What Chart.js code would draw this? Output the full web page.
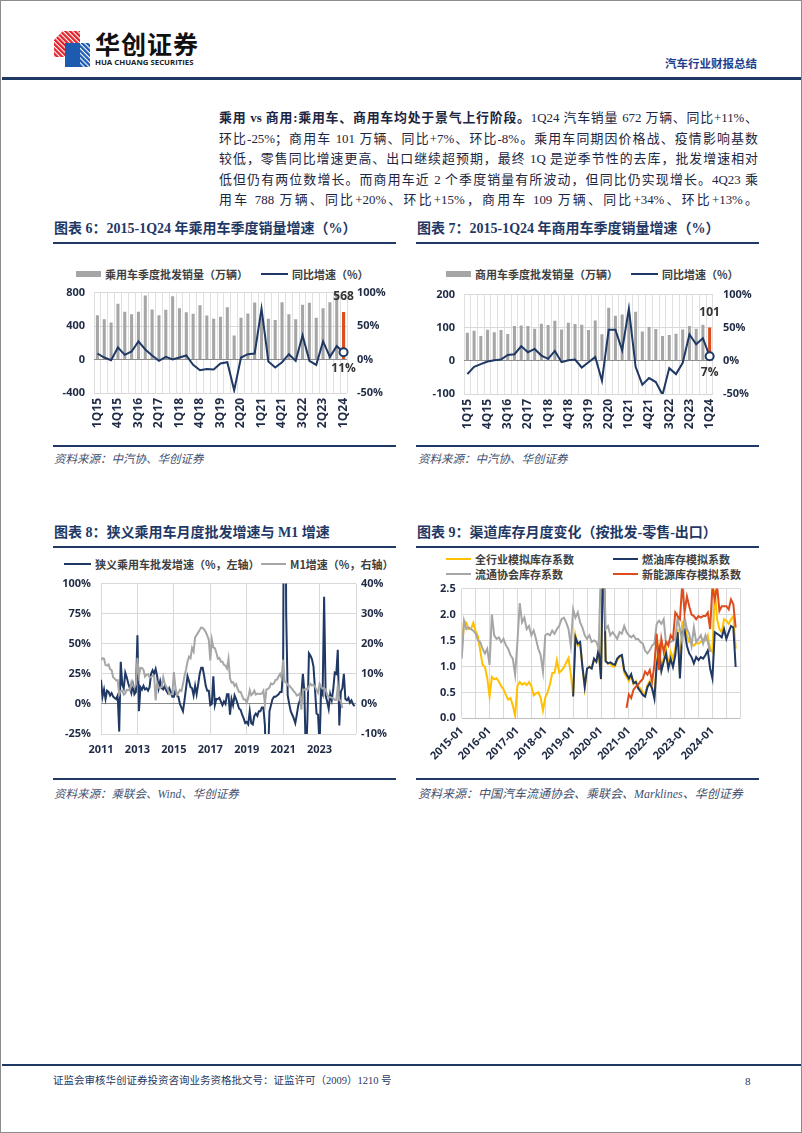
<!DOCTYPE html>
<html lang="zh-CN">
<head>
<meta charset="utf-8">
<title>汽车行业财报总结</title>
<script src="https://cdn.jsdelivr.net/npm/chart.js@4.4.1/dist/chart.umd.min.js"></script>
<style>
html, body { margin: 0; padding: 0; background: #fff; }
#page { position: relative; width: 802px; height: 1133px; box-sizing: border-box; border: 1px solid #8c8c8c; overflow: hidden;
        font-family: "Liberation Serif", "Noto Sans CJK SC", serif; }
.abs { position: absolute; }
.rule { position: absolute; height: 2px; background: #1f3864; }
.ttl { position: absolute; font-size: 14px; font-weight: bold; color: #1f3864; white-space: nowrap; line-height: 16px; }
.src { position: absolute; font-size: 11.5px; font-style: italic; color: #44506e; white-space: nowrap; line-height: 14px; }
.txt { position: absolute; left: 218px; width: 539px; font-size: 12.9px; line-height: 20px; color: #1c2541;
       text-align: justify; text-align-last: justify; }
.lg { position: absolute; font-family: "Noto Sans CJK SC", sans-serif; font-size: 11px; font-weight: bold; color: #404040;
      white-space: nowrap; line-height: 14px; display: flex; align-items: center; }
.lg i { display: inline-block; margin-right: 4px; }
.box { position: absolute; }
</style>
</head>
<body>
<div id="page">

  <!-- 页眉 -->
  <svg class="abs" style="left:53px;top:30px" width="36" height="36" viewBox="0 0 36 36">
    <defs>
      <pattern id="st" width="3.4" height="3.4" patternUnits="userSpaceOnUse" patternTransform="rotate(45)">
        <rect width="3.4" height="1.1" fill="#fff"/>
      </pattern>
    </defs>
    <polygon points="0,9 9,0 26,0 26,26 0,26" fill="#e2232b"/>
    <polygon points="0,9 9,0 26,0 26,26 0,26" fill="url(#st)"/>
    <polygon points="11,12 36,12 36,36 11,36" fill="#1d5bb0"/>
    <polygon points="26,12 36,12 36,36 26,36" fill="url(#st)"/>
  </svg>
  <div class="abs" style="left:94px;top:27px;font-family:'Noto Sans CJK SC';font-weight:bold;font-size:25px;letter-spacing:1px;color:#111;line-height:30px;">华创证券</div>
  <div class="abs" style="left:94px;top:57px;font-family:'Open Sans';font-weight:bold;font-size:7.8px;color:#222;line-height:9px;white-space:nowrap;">HUA CHUANG SECURITIES</div>
  <div class="abs" style="left:664px;top:56px;font-size:11.5px;font-weight:bold;color:#1f3f8f;line-height:14px;">汽车行业财报总结</div>
  <div class="rule" style="left:1px;width:800px;top:76px;height:2.5px;"></div>

  <!-- 正文 -->
  <div class="txt" style="top:107px;"><b>乘用 vs 商用:乘用车、商用车均处于景气上行阶段。</b>1Q24 汽车销量 672 万辆、同比+11%、</div>
  <div class="txt" style="top:127.5px;">环比-25%；商用车 101 万辆、同比+7%、环比-8%。乘用车同期因价格战、疫情影响基数</div>
  <div class="txt" style="top:148px;">较低，零售同比增速更高、出口继续超预期，最终 1Q 是逆季节性的去库，批发增速相对</div>
  <div class="txt" style="top:168.5px;">低但仍有两位数增长。而商用车近 2 个季度销量有所波动，但同比仍实现增长。4Q23 乘</div>
  <div class="txt" style="top:189px;">用车 788 万辆、同比+20%、环比+15%，商用车 109 万辆、同比+34%、环比+13%。</div>

  <!-- 图表 6 -->
  <div class="ttl" style="left:53px;top:220px;">图表 6：2015-1Q24 年乘用车季度销量增速（%）</div>
  <div class="rule" style="left:52px;width:343px;top:240.5px;"></div>
  <div class="lg" style="left:75px;top:266px;"><i style="width:25px;height:6px;background:#a6a6a6"></i>乘用车季度批发销量（万辆）</div>
  <div class="lg" style="left:260px;top:266px;"><i style="width:27px;height:2.5px;background:#1f3864"></i>同比增速（%）</div>
  <div class="box" style="left:40px;top:275px;width:360px;height:160px;"><canvas id="c6"></canvas></div>
  <div class="rule" style="left:52px;width:343px;top:444px;"></div>
  <div class="src" style="left:53px;top:451px;">资料来源：中汽协、华创证券</div>

  <!-- 图表 7 -->
  <div class="ttl" style="left:416px;top:220px;">图表 7：2015-1Q24 年商用车季度销量增速（%）</div>
  <div class="rule" style="left:415px;width:343px;top:240.5px;"></div>
  <div class="lg" style="left:445px;top:266px;"><i style="width:25px;height:6px;background:#a6a6a6"></i>商用车季度批发销量（万辆）</div>
  <div class="lg" style="left:630px;top:266px;"><i style="width:27px;height:2.5px;background:#1f3864"></i>同比增速（%）</div>
  <div class="box" style="left:405px;top:277px;width:360px;height:160px;"><canvas id="c7"></canvas></div>
  <div class="rule" style="left:415px;width:343px;top:444px;"></div>
  <div class="src" style="left:417px;top:451px;">资料来源：中汽协、华创证券</div>

  <!-- 图表 8 -->
  <div class="ttl" style="left:53px;top:524px;">图表 8：狭义乘用车月度批发增速与 M1 增速</div>
  <div class="rule" style="left:52px;width:343px;top:545px;"></div>
  <div class="lg" style="left:63px;top:556px;"><i style="width:27px;height:2.5px;background:#1f3864"></i>狭义乘用车批发增速（%，左轴）</div>
  <div class="lg" style="left:260px;top:556px;"><i style="width:25px;height:2.5px;background:#a6a6a6"></i>M1增速（%，右轴）</div>
  <div class="box" style="left:40px;top:566px;width:360px;height:194px;"><canvas id="c8"></canvas></div>
  <div class="rule" style="left:52px;width:343px;top:776.5px;"></div>
  <div class="src" style="left:53px;top:786px;">资料来源：乘联会、Wind、华创证券</div>

  <!-- 图表 9 -->
  <div class="ttl" style="left:416px;top:524px;">图表 9：渠道库存月度变化（按批发-零售-出口）</div>
  <div class="rule" style="left:415px;width:343px;top:545px;"></div>
  <div class="lg" style="left:445px;top:551px;"><i style="width:25px;height:2.5px;background:#ffc000"></i>全行业模拟库存系数</div>
  <div class="lg" style="left:612px;top:551px;"><i style="width:25px;height:2.5px;background:#1f3864"></i>燃油库存模拟系数</div>
  <div class="lg" style="left:445px;top:566px;"><i style="width:25px;height:2.5px;background:#a6a6a6"></i>流通协会库存系数</div>
  <div class="lg" style="left:612px;top:566px;"><i style="width:25px;height:2.5px;background:#dc4c1c"></i>新能源库存模拟系数</div>
  <div class="box" style="left:405px;top:575px;width:350px;height:195px;"><canvas id="c9"></canvas></div>
  <div class="rule" style="left:415px;width:343px;top:776.5px;"></div>
  <div class="src" style="left:417px;top:786px;font-size:12px;">资料来源：中国汽车流通协会、乘联会、Marklines、华创证券</div>

  <!-- 页脚 -->
  <div class="rule" style="left:1px;width:800px;top:1063px;"></div>
  <div class="abs" style="left:52px;top:1073px;font-size:10.5px;color:#1f3864;line-height:14px;white-space:nowrap;">证监会审核华创证券投资咨询业务资格批文号：证监许可（2009）1210 号</div>
  <div class="abs" style="left:744px;top:1073px;font-size:11px;color:#1f3864;line-height:14px;">8</div>
</div>

<script>
// 季度标签（图表 6、7 共用）
const quarterLabels = ['1Q15','2Q15','3Q15','4Q15','1Q16','2Q16','3Q16','4Q16','1Q17','2Q17','3Q17','4Q17',
  '1Q18','2Q18','3Q18','4Q18','1Q19','2Q19','3Q19','4Q19','1Q20','2Q20','3Q20','4Q20','1Q21','2Q21','3Q21','4Q21',
  '1Q22','2Q22','3Q22','4Q22','1Q23','2Q23','3Q23','4Q23','1Q24'];

// 图表 6：乘用车季度批发销量（万辆）与同比（%）
const pvSales = [530, 481, 444, 666, 572, 540, 570, 765, 598, 530, 594, 755, 613, 566, 548, 648,
  525, 488, 510, 624, 286, 500, 550, 682, 500, 488, 474, 684, 542, 480, 656, 680, 500, 614, 684, 788, 568];
const pvYoY = [9, 3, -1, 18, 7, 12, 27, 15, 6, -2, 4, 0, 3, 6, -8, -16,
  -14, -15, -6, -4, -46, 3, 8, 9, 76, -3, -12, -4, 8, -2, 36, -2, -8, 27, 4, 20, 11];

// 图表 7：商用车季度批发销量（万辆）与同比（%）
const cvSales = [85, 91, 75, 94, 86, 93, 81, 105, 107, 105, 97, 112, 108, 121, 95, 115,
  111, 109, 93, 122, 80, 160, 136, 140, 143, 148, 89, 102, 96, 75, 78, 82, 95, 105, 97, 109, 101];
const cvYoY = [-20, -9, -5, -1, 1, 2, 9, 10, 22, 13, 18, 8, 3, 15, -2, 1,
  2, -10, -2, 6, -30, 47, 47, 16, 79, -9, -36, -26, -32, -51, -11, -20, -3, 40, 25, 34, 7];

// 图表 8：月度数据，自 2011-01 起
const m1Years = ['2011', '2013', '2015', '2017', '2019', '2021', '2023'];
const pvMonthlyYoY = [
  20, 6, 12, 4, 11, 10, 7, 9, 6, 5, 4, 7,            // 2011
  -23, 35, 16, 13, 26, 22, 17, 13, 9, 16, 8, 10,     // 2012
  57, -6, 14, 12, 15, 12, 13, 11, 14, 25, 28, 25,    // 2013
  29, 23, 13, 19, 13, 12, 15, 11, 9, 13, 10, 6,      // 2014
  6, 11, 7, 6, 0, -3, -6, 3, 13, 23, 19, 14,         // 2015
  13, 7, 15, 8, 16, 25, 30, 30, 23, 15, 11, 11,      // 2016
  -1, 0, 23, -1, 4, 4, 5, 2, -1, 2, 0, 8,            // 2017
  8, -9, 4, -1, 7, 4, 0, -4, -5, -9, -12, -16,       // 2018
  -15, -17, -6, -16, -17, -10, -8, -10, -6, -6, -3, -3, // 2019
  -18, -80, -45, -6, -1, 4, 6, 6, 7, 8, 10, 10,      // 2020
  30, 370, 75, 7, 0, -6, -9, -12, -16, -9, -1, 3,    // 2021
  8, 25, 10, -47, -12, 42, 40, 37, 31, 12, -8, -9,   // 2022
  -35, 11, 8, 89, 7, 2, -4, 8, 3, 12, 26, 25,        // 2023
  45, -18, 10, 13, 25, 4, 3, 5, 1, 3, 0, -2          // 2024
];
const m1YoY = [
  14.6, 15.2, 15.0, 12.9, 12.7, 13.1, 11.6, 11.2, 8.9, 8.4, 7.8, 7.9,   // 2011
  3.1, 4.3, 4.4, 3.1, 3.5, 4.7, 4.6, 4.5, 7.3, 6.1, 5.5, 6.5,           // 2012
  15.3, 9.5, 11.9, 11.9, 11.3, 9.1, 9.7, 9.9, 8.9, 8.9, 9.4, 9.3,       // 2013
  1.2, 6.9, 5.4, 5.3, 5.7, 8.9, 6.7, 5.7, 4.8, 3.2, 3.2, 3.2,           // 2014
  10.6, 5.6, 2.9, 3.7, 4.7, 4.3, 6.6, 9.3, 11.4, 14.0, 15.7, 15.2,      // 2015
  18.6, 17.4, 22.1, 22.9, 23.7, 24.6, 25.4, 25.3, 24.7, 23.9, 22.7, 21.4, // 2016
  14.5, 21.4, 18.8, 18.5, 17.0, 15.0, 15.3, 14.0, 14.0, 13.0, 12.7, 11.8, // 2017
  15.0, 8.5, 7.1, 7.2, 6.0, 6.6, 5.1, 3.9, 4.0, 2.7, 1.5, 1.5,          // 2018
  0.4, 2.0, 4.6, 2.9, 3.4, 4.4, 3.1, 3.4, 3.4, 3.3, 3.5, 4.4,           // 2019
  0.0, 4.8, 5.0, 5.5, 6.8, 6.5, 6.9, 8.0, 8.1, 9.1, 10.0, 8.6,          // 2020
  14.7, 7.4, 7.1, 6.2, 6.1, 5.5, 4.9, 4.2, 3.7, 2.8, 3.0, 3.5,          // 2021
  -1.9, 4.7, 4.7, 5.1, 4.6, 5.8, 6.7, 6.1, 6.4, 5.8, 4.6, 3.7,          // 2022
  6.7, 5.8, 5.1, 5.3, 4.7, 3.1, 2.3, 2.2, 2.1, 1.9, 1.3, 1.3,           // 2023
  5.9, 1.2, 1.1, -1.4                                                   // 2024
];

// 图表 9：库存系数，月度，自 2015-01 起
const invYearLabels = ['2015-01', '2016-01', '2017-01', '2018-01', '2019-01', '2020-01', '2021-01', '2022-01', '2023-01', '2024-01'];
const invTotal = [
  1.2, 1.88, 1.84, 1.72, 1.72, 1.84, 1.68, 1.58, 1.3, 1.03, 0.99, 0.78,   // 2015
  0.42, 0.8, 0.75, 0.77, 0.71, 0.62, 0.56, 0.45, 0.36, 0.39, 0.25, 0.05,  // 2016
  0.62, 0.7, 0.65, 0.68, 0.64, 0.7, 0.62, 0.44, 0.48, 0.5, 0.4, 0.15,     // 2017
  0.4, 0.5, 0.65, 0.87, 0.88, 1.12, 0.88, 0.92, 0.98, 1.07, 1.16, 0.85,   // 2018
  0.45, 1.6, 1.4, 1.45, 1.0, 0.58, 0.95, 1.0, 0.98, 1.12, 1.1, 1.3,       // 2019
  0.75, 3.5, 1.12, 1.05, 1.06, 1.0, 1.0, 1.12, 1.18, 1.2, 0.88, 0.8,      // 2020
  0.72, 0.82, 0.66, 0.72, 0.62, 0.57, 0.5, 0.47, 0.64, 0.72, 0.56, 0.42,  // 2021
  1.09, 1.4, 0.96, 1.15, 1.34, 1.02, 1.28, 1.15, 1.34, 1.72, 0.85, 1.85,  // 2022
  1.88, 1.6, 1.47, 1.45, 1.4, 1.45, 1.44, 1.47, 1.53, 1.5, 1.6, 1.34,     // 2023
  1.28, 2.48, 1.91, 1.72, 1.66, 1.91, 1.88, 1.82, 1.91, 1.97, 1.34        // 2024
];
const invFuelStart = 48; // 2019-01
const invFuel = [
  0.42, 1.56, 1.44, 1.47, 0.99, 0.61, 0.96, 0.99, 0.96, 1.15, 1.09, 1.34, // 2019
  0.76, 3.5, 1.1, 1.06, 1.08, 1.05, 1.03, 1.15, 1.2, 1.22, 0.93, 0.85,    // 2020
  0.77, 0.85, 0.68, 0.7, 0.58, 0.52, 0.45, 0.42, 0.6, 0.68, 0.58, 0.38,   // 2021
  1.03, 1.31, 0.91, 1.09, 1.25, 0.96, 1.15, 0.99, 1.22, 1.66, 0.77, 1.66, // 2022
  1.7, 1.4, 1.25, 1.18, 1.06, 1.18, 1.12, 1.18, 1.15, 1.22, 1.31, 0.96,   // 2023
  0.77, 1.66, 1.63, 1.6, 1.56, 1.72, 1.53, 1.66, 1.78, 1.75, 0.99         // 2024
];
const invCada = [
  1.15, 1.88, 1.72, 1.75, 1.72, 1.69, 1.63, 1.5, 1.47, 1.34, 1.25, 1.34,  // 2015
  1.03, 2.0, 1.6, 1.53, 1.56, 1.47, 1.53, 1.41, 1.34, 1.22, 1.15, 0.84,   // 2016
  1.47, 2.22, 1.85, 1.94, 1.72, 1.78, 1.6, 1.69, 1.53, 1.34, 1.22, 0.9,   // 2017
  1.6, 1.63, 1.6, 1.69, 1.63, 1.72, 1.78, 1.91, 1.94, 1.85, 1.72, 1.4,    // 2018
  2.1, 1.94, 2.04, 1.85, 1.75, 1.6, 1.53, 1.6, 1.47, 1.5, 1.47, 1.34,     // 2019
  3.0, 3.5, 1.72, 1.78, 1.6, 1.66, 1.6, 1.53, 1.66, 1.63, 1.78, 1.66,     // 2020
  1.6, 1.56, 1.6, 1.53, 1.53, 1.47, 1.44, 1.3, 1.25, 1.31, 1.4, 1.44,     // 2021
  1.82, 1.88, 1.82, 1.91, 1.44, 1.47, 1.47, 1.5, 1.53, 1.94, 1.72, 1.47,  // 2022
  1.94, 1.72, 1.63, 1.4, 1.75, 1.47, 1.53, 1.6, 1.44, 1.6, 1.47, 1.28     // 2023
];
const invNevStart = 71; // 2020-12
const invNev = [
  0.2,
  0.46, 0.39, 0.55, 0.61, 0.65, 0.71, 0.76, 0.9, 0.84, 0.93, 0.71, 1.03,  // 2021
  1.63, 0.93, 1.53, 1.28, 1.47, 1.4, 1.6, 1.53, 2.04, 1.97, 1.91, 2.6,    // 2022
  2.04, 2.35, 2.16, 2.0, 1.97, 1.91, 1.97, 1.94, 1.97, 1.97, 2.04, 1.72,  // 2023
  2.55, 2.29, 2.55, 2.07, 2.16, 2.16, 2.16, 2.1, 2.29, 2.2, 1.75          // 2024
];

const NAVY = '#1f3864';
const GRAY = '#a6a6a6';
const RED = '#dc4c1c';
const YELLOW = '#ffc000';
const GRID = '#d9d9d9';
const ZERO = '#8c8c8c';

Chart.defaults.font.family = '"Open Sans", "Noto Sans CJK SC", sans-serif';
Chart.defaults.font.size = 11;
Chart.defaults.font.weight = 'bold';
Chart.defaults.color = '#1f2a44';
Chart.defaults.animation = false;
Chart.defaults.maintainAspectRatio = false;
Chart.defaults.plugins.legend.display = false;
Chart.defaults.plugins.tooltip.enabled = false;

const toPoints = (arr, start) => arr.map((v, i) => ({x: start + i, y: v}));
const yGrid = {color: c => (c.tick && c.tick.value === 0 ? ZERO : GRID), drawTicks: false};

// 最后一期的数值标注
const lastLabels = {
    id: 'lastLabels',
    afterDatasetsDraw(chart, args, opts) {
        const lineMeta = chart.getDatasetMeta(0);
        const barMeta = chart.getDatasetMeta(1);
        const pt = lineMeta.data[lineMeta.data.length - 1];
        const bar = barMeta.data[barMeta.data.length - 1];
        const ctx = chart.ctx;
        ctx.save();
        ctx.font = 'bold 12px "Open Sans", sans-serif';
        ctx.fillStyle = '#333333';
        ctx.textAlign = 'center';
        ctx.textBaseline = 'middle';
        ctx.fillText(opts.barText, bar.x, bar.y - 15);
        ctx.fillText(opts.lineText, pt.x, pt.y + 16);
        ctx.restore();
    }
};

function comboChart(id, sales, yoy, left, right, dims) {
    const last = sales.length - 1;
    return new Chart(document.getElementById(id), {
        type: 'bar',
        data: {
            labels: quarterLabels,
            datasets: [
                {
                    type: 'line',
                    data: yoy,
                    yAxisID: 'y1',
                    order: 0,
                    borderColor: NAVY,
                    borderWidth: 2,
                    tension: 0,
                    pointRadius: c => (c.dataIndex === last ? 4 : 0),
                    pointBackgroundColor: '#ffffff',
                    pointBorderColor: NAVY,
                    pointBorderWidth: 2
                },
                {
                    type: 'bar',
                    data: sales,
                    yAxisID: 'y',
                    order: 1,
                    backgroundColor: c => (c.dataIndex === last ? RED : GRAY),
                    barPercentage: 0.45,
                    categoryPercentage: 1
                }
            ]
        },
        options: {
            layout: {padding: {top: dims.top}},
            scales: {
                x: {
                    grid: {color: '#e0e0e0', drawTicks: false},
                    border: {display: false},
                    ticks: {
                        autoSkip: false, minRotation: 90, maxRotation: 90, padding: 5, font: {size: 12},
                        callback: (v, i) => (i % 3 === 0 ? quarterLabels[i] : '')
                    },
                    afterFit: s => { s.height = dims.xh; }
                },
                y: {
                    position: 'left', min: left[0], max: left[1],
                    ticks: {stepSize: left[2], padding: 9},
                    grid: yGrid,
                    border: {display: false},
                    afterFit: s => { s.width = dims.yw; }
                },
                y1: {
                    position: 'right', min: right[0], max: right[1],
                    ticks: {stepSize: right[2], padding: 10, callback: v => v + '%'},
                    grid: {drawOnChartArea: false, drawTicks: false},
                    border: {display: false},
                    afterFit: s => { s.width = dims.y1w; }
                }
            },
            plugins: {
                lastLabels: {barText: String(sales[last]), lineText: yoy[last] + '%'}
            }
        },
        plugins: [lastLabels]
    });
}

comboChart('c6', pvSales, pvYoY, [-400, 800, 400], [-50, 100, 50], {top: 10, xh: 43, yw: 53, y1w: 54});
comboChart('c7', cvSales, cvYoY, [-100, 200, 100], [-50, 100, 50], {top: 10, xh: 44, yw: 58, y1w: 53});

// 图表 8
new Chart(document.getElementById('c8'), {
    type: 'line',
    data: {
        datasets: [
            {data: toPoints(m1YoY, 0), yAxisID: 'y1', borderColor: GRAY, borderWidth: 2, pointRadius: 0, order: 0},
            {data: toPoints(pvMonthlyYoY, 0), yAxisID: 'y', borderColor: NAVY, borderWidth: 2, pointRadius: 0, order: 1}
        ]
    },
    options: {
        layout: {padding: {top: 10}},
        scales: {
            x: {
                type: 'linear', min: 0, max: 168,
                grid: {color: GRID, drawTicks: false},
                border: {display: false},
                ticks: {stepSize: 24, autoSkip: false, maxRotation: 0, padding: 9,
                        callback: v => (v < 168 ? m1Years[v / 24] : '')},
                afterFit: s => { s.height = 27; }
            },
            y: {
                position: 'left', min: -25, max: 100,
                ticks: {stepSize: 25, padding: 10, callback: v => v + '%'},
                grid: yGrid,
                border: {display: false},
                afterFit: s => { s.width = 60; }
            },
            y1: {
                position: 'right', min: -10, max: 40,
                ticks: {stepSize: 10, padding: 5, callback: v => v + '%'},
                grid: {drawOnChartArea: false, drawTicks: false},
                border: {display: false},
                afterFit: s => { s.width = 45; }
            }
        }
    }
});

// 图表 9
new Chart(document.getElementById('c9'), {
    type: 'line',
    data: {
        datasets: [
            {data: toPoints(invNev, invNevStart), borderColor: RED, borderWidth: 2, pointRadius: 0, order: 0},
            {data: toPoints(invCada, 0), borderColor: GRAY, borderWidth: 2, pointRadius: 0, order: 1},
            {data: toPoints(invFuel, invFuelStart), borderColor: NAVY, borderWidth: 2, pointRadius: 0, order: 2},
            {data: toPoints(invTotal, 0), borderColor: YELLOW, borderWidth: 2, pointRadius: 0, order: 3}
        ]
    },
    options: {
        layout: {padding: {top: 10.7, right: 15.7}},
        scales: {
            x: {
                type: 'linear', min: 0, max: 120,
                grid: {color: GRID, drawTicks: false},
                border: {display: false},
                ticks: {stepSize: 6, autoSkip: false, minRotation: 45, maxRotation: 45, padding: 6,
                        callback: v => (v % 12 === 0 && v < 120 ? invYearLabels[v / 12] : '')},
                afterFit: s => { s.height = 52.7; }
            },
            y: {
                min: 0, max: 2.5,
                ticks: {stepSize: 0.5, padding: 6, callback: v => v.toFixed(1)},
                grid: {color: c => (c.tick && c.tick.value === 0 ? '#bfbfbf' : GRID), drawTicks: false},
                border: {display: false},
                afterFit: s => { s.width = 55.7; }
            }
        }
    }
});
</script>
</body>
</html>
